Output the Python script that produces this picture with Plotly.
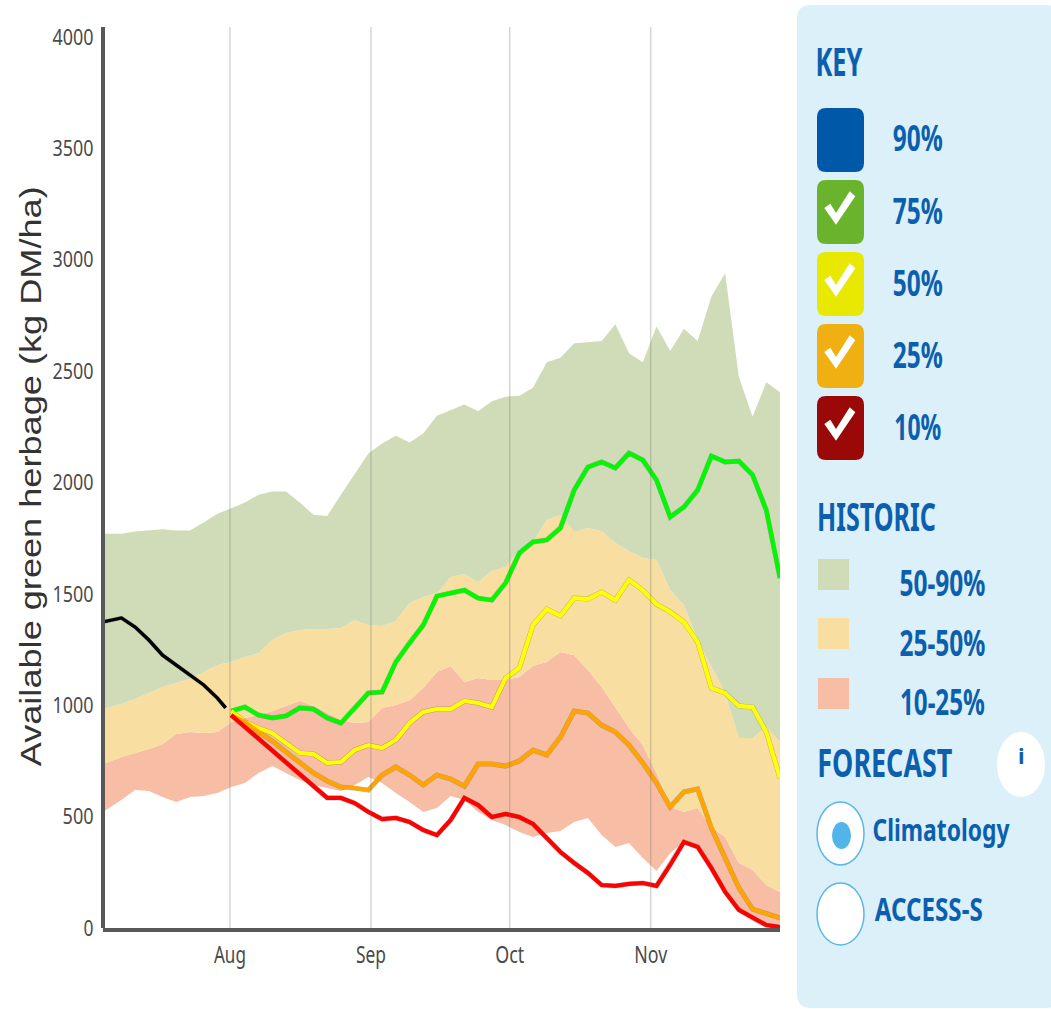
import json
import plotly.graph_objects as go

W, H = 1051, 1009

MONTHS = ["Aug", "Sep", "Oct", "Nov"]
MONTH_STEPS = [8.91, 19.19, 29.3, 39.58]
Y_TICKS = [0, 500, 1000, 1500, 2000, 2500, 3000, 3500, 4000]
Y_TITLE = "Available green herbage (kg DM/ha)"

STEPS = [-0.34] + list(range(50))
FORECAST_STEPS = list(range(9, 50))
OBSERVED_STEPS = [-0.34, 0, 1, 2, 3, 4, 5, 6, 7, 8, 8.6]

HIST_90 = [1770,1770,1770,1780,1785,1790,1785,1785,1820,1860,1885,1910,1945,1960,1960,1910,1855,
           1850,1945,2040,2130,2175,2210,2180,2220,2300,2325,2350,2320,2365,2385,2390,2425,2540,
           2560,2625,2630,2635,2710,2580,2540,2700,2590,2690,2635,2835,2940,2475,2295,2450,2405]
HIST_50 = [983,988,1006,1028,1055,1082,1100,1118,1149,1181,1194,1217,1234,1293,1324,1338,1342,
           1342,1347,1383,1360,1356,1378,1459,1486,1504,1576,1589,1553,1603,1621,1697,1733,1832,
           1854,1778,1796,1782,1728,1692,1661,1652,1517,1450,1293,1172,1055,853,853,902,835]
HIST_25 = [736,745,768,786,804,826,871,880,875,880,925,943,956,974,997,1019,997,965,934,920,925,
           988,1001,1023,1077,1149,1176,1104,1122,1113,1113,1127,1176,1194,1239,1225,1158,1082,
           988,898,821,696,543,521,539,453,408,292,260,193,162]
HIST_10 = [521,534,575,619,615,588,566,588,593,606,633,651,696,727,696,664,642,628,615,642,678,
           651,606,566,521,539,593,575,521,485,462,431,408,426,435,476,494,417,364,382,314,256,
           337,386,359,269,171,90,49,18,9]

OBSERVED = [1374,1378,1392,1351,1293,1225,1181,1136,1091,1032,988]

F_75 = [974,992,956,943,952,988,983,943,920,988,1055,1059,1194,1279,1360,1490,1504,1517,1481,
        1472,1549,1683,1733,1742,1796,1966,2069,2092,2065,2132,2101,2011,1845,1890,1966,2119,
        2092,2096,2034,1876,1571]
F_50 = [974,925,898,875,830,786,781,741,745,799,821,808,844,920,970,983,983,1019,1010,992,1122,
        1167,1360,1432,1401,1481,1477,1508,1472,1562,1517,1454,1419,1374,1284,1077,1055,997,
        992,880,673]
F_25 = [956,925,880,839,790,741,696,660,633,628,619,687,723,687,642,687,669,637,736,736,727,750,
        799,777,857,974,965,911,880,821,741,651,543,611,624,449,314,180,85,67,45]
F_10 = [956,902,848,795,741,687,633,584,584,561,521,489,494,476,440,417,485,584,552,498,512,498,
        467,404,341,292,247,193,189,198,202,189,283,386,364,269,162,81,45,13,4]

KEY_LABELS = ["90%", "75%", "50%", "25%", "10%"]
KEY_COLORS = ["#0058a8", "#6ab42d", "#e8e800", "#f0b012", "#9a0808"]
HIST_LABELS = ["50-90%", "25-50%", "10-25%"]
BAND_COLORS = ["#cfdcb7", "#f8dea0", "#f8bda5"]
FORECAST_LABELS = ["Climatology", "ACCESS-S"]
LINE_COLORS = ["#00f800", "#ffff00", "#ffa500", "#ff0000"]

BLUE = "#0b5fae"
PANEL = "#dcf0fa"
FONT = "Noto Sans"

# rendered widths of the condensed lettering, in pixels
TEXT_WIDTHS = {"KEY": 47, "HISTORIC": 119, "FORECAST": 135, "Climatology": 137, "ACCESS-S": 108,
               "90%": 50, "75%": 50, "50%": 50, "25%": 50, "10%": 47,
               "50-90%": 86, "25-50%": 86, "10-25%": 85,
               "Aug": 32, "Sep": 30, "Oct": 29, "Nov": 33,
               "0": 10, "500": 31, "1000": 41, "1500": 41, "2000": 41, "2500": 41, "3000": 41,
               "3500": 41, "4000": 41, Y_TITLE: 580}


def px(x):
    return x / W


def py(y):
    return 1 - y / H


fig = go.Figure()

fig.add_trace(go.Scatter(x=STEPS, y=HIST_10, mode="lines", line=dict(width=0), showlegend=False, hoverinfo="skip"))
for vals, col in zip([HIST_25, HIST_50, HIST_90], BAND_COLORS[::-1]):
    fig.add_trace(go.Scatter(x=STEPS, y=vals, mode="lines", line=dict(width=0), fill="tonexty",
                             fillcolor=col, showlegend=False, hoverinfo="skip"))

forecasts = [F_75, F_50, F_25, F_10]
SHADOW = "rgba(60,60,60,0.33)"
fig.add_trace(go.Scatter(x=OBSERVED_STEPS, y=OBSERVED, mode="lines", xaxis="x2", yaxis="y2",
                         line=dict(color=SHADOW, width=4), showlegend=False))
for vals in forecasts[::-1]:
    fig.add_trace(go.Scatter(x=FORECAST_STEPS, y=vals, mode="lines", xaxis="x2", yaxis="y2",
                             line=dict(color=SHADOW, width=5), showlegend=False))
fig.add_trace(go.Scatter(x=OBSERVED_STEPS, y=OBSERVED, mode="lines", xaxis="x3", yaxis="y3",
                         line=dict(color="#000000", width=3.4), showlegend=False))
for vals, col in zip(forecasts, LINE_COLORS):
    fig.add_trace(go.Scatter(x=FORECAST_STEPS, y=vals, mode="lines", xaxis="x3", yaxis="y3",
                             line=dict(color=col, width=4.2), showlegend=False))

XR = [-0.34, 49]
YR = [0, 4045]
dom_x = [px(103), px(780)]
dom_y = [py(928), py(27)]
shadow_dx, shadow_dy = 1.5, 3
hidden = dict(visible=False, fixedrange=True)

shapes = []
for m in MONTH_STEPS:
    shapes.append(dict(type="line", xref="x", yref="paper", x0=m, x1=m, y0=py(928), y1=py(27),
                       line=dict(color="rgba(110,110,110,0.32)", width=1.3), layer="above"))


def rrect(x0, y0, x1, y1, r):
    a, b, c, d = px(x0), px(x1), py(y0), py(y1)
    rx, ry = r / W, r / H
    return (f"M{a+rx},{c} L{b-rx},{c} Q{b},{c} {b},{c-ry} L{b},{d+ry} Q{b},{d} {b-rx},{d} "
            f"L{a+rx},{d} Q{a},{d} {a},{d+ry} L{a},{c-ry} Q{a},{c} {a+rx},{c} Z")


def paper_shape(path, fill, line_col=None):
    shapes.append(dict(type="path", xref="paper", yref="paper", path=path, fillcolor=fill,
                       line=dict(width=0 if line_col is None else 1.5, color=line_col or fill)))


def oval(x0, y0, x1, y1, fill, line_col=None):
    shapes.append(dict(type="circle", xref="paper", yref="paper", x0=px(x0), x1=px(x1),
                       y0=py(y1), y1=py(y0), fillcolor=fill,
                       line=dict(width=0 if line_col is None else 1.5, color=line_col or fill)))


paper_shape(rrect(797, 5, 1060, 1008, 14), PANEL)

annotations = [dict(text=Y_TITLE, x=px(30), y=py(477), xref="paper", yref="paper", textangle=-90,
                    xanchor="center", yanchor="middle", showarrow=False,
                    font=dict(family="Liberation Sans", size=30, color="#333333"))]


def label(text, x, y, size):
    annotations.append(dict(text=text, x=px(x), y=py(y), xref="paper", yref="paper",
                            xanchor="center", yanchor="middle", showarrow=False,
                            font=dict(family=FONT, size=size, color=BLUE, weight=700)))


label("KEY", 839.5, 60, 40)
check = [(7.3, 28), (13.3, 23.7), (19, 33), (32.7, 11.3), (38.3, 16.3), (19, 44.7)]
for i, (lab, col) in enumerate(zip(KEY_LABELS, KEY_COLORS)):
    top = 108 + 72 * i
    paper_shape(rrect(817, top, 864, top + 64, 9), col)
    if i > 0:
        pts = [f"{px(817 + cx)},{py(top + cy)}" for cx, cy in check]
        paper_shape("M" + " L".join(pts) + " Z", "#ffffff")
    label(lab, 918, top + 30, 35)

label("HISTORIC", 876.5, 515, 39)
for lab, col, top, ty in zip(HIST_LABELS, BAND_COLORS, [559, 618, 678], [582, 642, 701]):
    shapes.append(dict(type="rect", xref="paper", yref="paper", x0=px(818), x1=px(849), y0=py(top + 31), y1=py(top),
                       fillcolor=col, line=dict(width=0)))
    label(lab, 942, ty, 35)

label("FORECAST", 884.5, 761, 39)
oval(997, 732, 1045, 797, "#ffffff")
label("i", 1021, 755, 22)
oval(817, 802, 864, 865, "#ffffff", "#5ab6e8")
oval(832, 822, 851, 849, "#52b4e8")
oval(817, 883, 864, 945, "#ffffff", "#5ab6e8")
label(FORECAST_LABELS[0], 941.5, 829, 30)
label(FORECAST_LABELS[1], 928, 908, 33)

fig.update_layout(
    width=W, height=H, margin=dict(l=0, r=0, t=0, b=0, autoexpand=False), autosize=False,
    paper_bgcolor="#ffffff", plot_bgcolor="#ffffff", showlegend=False,
    shapes=shapes, annotations=annotations,
    font=dict(family=FONT, color="#444444"),
    xaxis=dict(domain=dom_x, range=XR, tickmode="array", tickvals=MONTH_STEPS, ticktext=MONTHS,
               showgrid=False, zeroline=False, showline=True, linecolor="#585858", linewidth=4,
               ticks="outside", ticklen=3, tickcolor="rgba(0,0,0,0)", tickwidth=1,
               tickfont=dict(family=FONT, size=23, color="#4a4a4a")),
    yaxis=dict(domain=dom_y, range=YR, tickmode="array", tickvals=Y_TICKS, showgrid=False,
               zeroline=False, showline=True, linecolor="#585858", linewidth=4,
               anchor="free", position=px(103),
               ticks="outside", ticklen=3, tickcolor="rgba(0,0,0,0)", tickwidth=1,
               tickfont=dict(family=FONT, size=22, color="#4a4a4a")),
    xaxis2=dict(domain=[dom_x[0] + shadow_dx / W, dom_x[1] + shadow_dx / W], range=XR, overlaying="x", anchor="y2", **hidden),
    yaxis2=dict(domain=[dom_y[0] - shadow_dy / H, dom_y[1] - shadow_dy / H], range=YR, overlaying="y", anchor="x2", **hidden),
    xaxis3=dict(domain=dom_x, range=XR, overlaying="x", anchor="y3", **hidden),
    yaxis3=dict(domain=dom_y, range=YR, overlaying="y", anchor="x3", **hidden),
)

post = """
document.body.style.margin='0';document.body.style.overflow='hidden';
var widths=%s;
function squeeze(){document.querySelectorAll('text').forEach(function(t){
  var w=widths[t.textContent];
  if(w){t.setAttribute('textLength',w);t.setAttribute('lengthAdjust','spacingAndGlyphs');}
});}
squeeze();setTimeout(squeeze,100);
""" % json.dumps(TEXT_WIDTHS)

fig.write_html("out.html", config={"displayModeBar": False}, post_script=post)
